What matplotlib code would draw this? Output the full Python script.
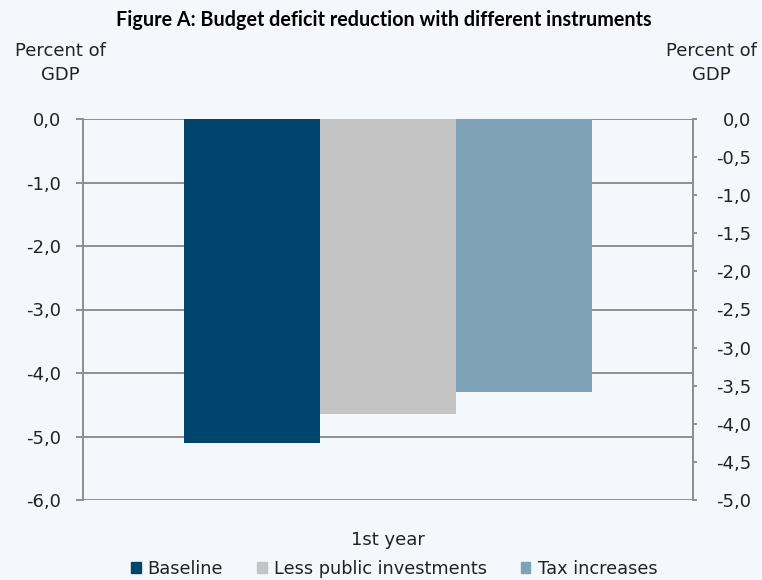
import matplotlib.pyplot as plt
import matplotlib.patches as mpatches
from matplotlib.ticker import FuncFormatter, MultipleLocator

# Data
categories = ['1st year']
series = ['Baseline', 'Less public investments', 'Tax increases']
values = [-5.1, -4.65, -4.3]
colors = ['#00456b', '#c4c4c4', '#7ea2b8']

bg = '#f4f8fc'
grid_col = '#8f8f8f'
txt_col = '#222222'
tick_font = ['Liberation Sans Narrow', 'DejaVu Sans']

plt.rcParams['font.family'] = tick_font

fig = plt.figure(figsize=(7.62, 5.80), dpi=100)
fig.patch.set_facecolor(bg)
ax = fig.add_axes([83 / 762, 80 / 580, 610 / 762, 381 / 580])
ax.set_facecolor(bg)

bar_w = 0.223
for i, (name, val, col) in enumerate(zip(series, values, colors)):
    ax.bar(0 + (i - 1) * bar_w, val, width=bar_w, color=col, label=name, zorder=2)

ax.set_xlim(-0.5, 0.5)
ax.set_ylim(-6, 0)
ax.yaxis.set_major_locator(MultipleLocator(1))
fmt = FuncFormatter(lambda v, p: f'{v:.1f}'.replace('.', ',').replace('-0,0', '0,0'))
ax.yaxis.set_major_formatter(fmt)
ax.grid(axis='y', color=grid_col, linewidth=1.4, zorder=0)
ax.set_axisbelow(True)

for s in ['top', 'bottom']:
    ax.spines[s].set_visible(False)
for s in ['left', 'right']:
    ax.spines[s].set_color(grid_col)
    ax.spines[s].set_linewidth(1.4)

ax.tick_params(axis='y', direction='out', length=5, width=1.4, color=grid_col,
               pad=11, labelsize=13, labelcolor=txt_col)
ax.set_xticks([0], categories)
ax.tick_params(axis='x', length=0, pad=22, labelsize=13, labelcolor=txt_col)

# Right axis
ax2 = ax.twinx()
ax2.set_ylim(-5, 0)
ax2.yaxis.set_major_locator(MultipleLocator(0.5))
ax2.yaxis.set_major_formatter(fmt)
for s in ['top', 'bottom', 'left']:
    ax2.spines[s].set_visible(False)
ax2.spines['right'].set_color(grid_col)
ax2.spines['right'].set_linewidth(1.4)
ax2.tick_params(axis='y', direction='out', length=3, width=1.4, color=grid_col,
                pad=39, labelsize=13, labelcolor=txt_col)
for lab in ax2.get_yticklabels():
    lab.set_horizontalalignment('right')

# Titles
fig.text(384 / 762, 1 - 20 / 580, 'Figure A: Budget deficit reduction with different instruments',
         ha='center', va='center', fontsize=14.2, fontweight='bold', color='black',
         family=['Lato', 'DejaVu Sans'])
fig.text(60 / 762, 1 - 63 / 580, 'Percent of\nGDP', ha='center', va='center',
         fontsize=13, color=txt_col, linespacing=1.45)
fig.text(711 / 762, 1 - 63 / 580, 'Percent of\nGDP', ha='center', va='center',
         fontsize=13, color=txt_col, linespacing=1.45)

# Legend
handles = [mpatches.Patch(color=c, label=n) for n, c in zip(series, colors)]
fig.legend(handles=handles, loc='center', bbox_to_anchor=(394 / 762, 1 - 569 / 580),
           ncol=3, frameon=False, fontsize=12.8, handlelength=0.55, handleheight=0.55,
           handletextpad=0.4, columnspacing=1.9, labelcolor=txt_col)

plt.savefig('out.png', dpi=100, facecolor=bg)
plt.close()
